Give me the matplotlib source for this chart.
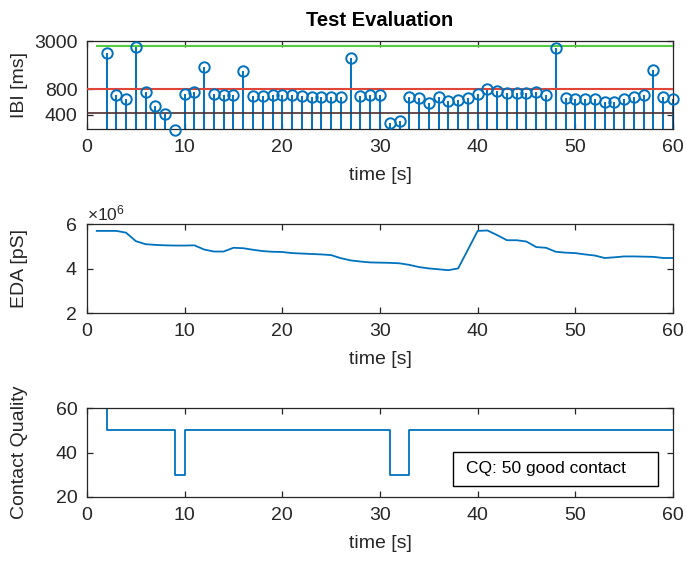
import matplotlib
matplotlib.use("Agg")
import matplotlib.pyplot as plt
import numpy as np
from matplotlib.ticker import ScalarFormatter, FixedLocator, FixedFormatter
from matplotlib.patches import Rectangle

plt.rcParams['font.family'] = ['Liberation Sans', 'DejaVu Sans']
plt.rcParams['mathtext.fontset'] = 'custom'
plt.rcParams['mathtext.rm'] = 'Liberation Sans'

# ---------------- data ----------------
ibi_t = [2, 3, 4, 5, 6, 7, 8, 9, 10, 11, 12, 13, 14, 15, 16, 17, 18, 19, 20,
         21, 22, 23, 24, 25, 26, 27, 28, 29, 30, 31, 32, 33, 34, 35, 36, 37, 38,
         39, 40, 41, 42, 43, 44, 45, 46, 47, 48, 49, 50, 51, 52, 53, 54, 55, 56,
         57, 58, 59, 60]
ibi_ms = [2168, 686, 616, 2570, 743, 510, 414, 262, 711, 750, 1459, 711, 686, 686,
          1336, 673, 673, 686, 680, 686, 666, 652, 647, 652, 647, 1910, 666, 680,
          680, 321, 340, 652, 627, 553, 652, 584, 600, 637, 704, 806, 758, 719,
          731, 725, 750, 686, 2455, 627, 616, 616, 616, 572, 563, 616, 656, 686,
          1346, 656, 616]
ibi_upper = 2600
ibi_mid = 800
ibi_lower = 420
ibi_yticks = [400, 800, 3000]

eda_t = list(range(1, 61))
eda_ps = [5.70e6, 5.70e6, 5.70e6, 5.62e6, 5.24e6, 5.10e6, 5.07e6, 5.05e6, 5.04e6, 5.04e6,
          5.05e6, 4.86e6, 4.77e6, 4.77e6, 4.94e6, 4.92e6, 4.85e6, 4.79e6, 4.76e6, 4.75e6,
          4.70e6, 4.68e6, 4.66e6, 4.64e6, 4.61e6, 4.47e6, 4.37e6, 4.32e6, 4.28e6, 4.27e6,
          4.26e6, 4.24e6, 4.17e6, 4.07e6, 4.01e6, 3.97e6, 3.93e6, 4.01e6, 4.85e6, 5.70e6,
          5.72e6, 5.51e6, 5.28e6, 5.28e6, 5.22e6, 4.97e6, 4.94e6, 4.76e6, 4.72e6, 4.70e6,
          4.64e6, 4.59e6, 4.48e6, 4.51e6, 4.55e6, 4.55e6, 4.54e6, 4.53e6, 4.48e6, 4.48e6]

cq_t = list(range(1, 61))
cq = [60, 50, 50, 50, 50, 50, 50, 50, 30, 50,
      50, 50, 50, 50, 50, 50, 50, 50, 50, 50,
      50, 50, 50, 50, 50, 50, 50, 50, 50, 50,
      30, 30, 50, 50, 50, 50, 50, 50, 50, 50,
      50, 50, 50, 50, 50, 50, 50, 50, 50, 50,
      50, 50, 50, 50, 50, 50, 50, 50, 50, 50]
cq_note = "CQ: 50 good contact"

# ---------------- style ----------------
BLUE = (0.0, 0.447, 0.741)
AXC = (0.15, 0.15, 0.15)
FS = 14

fig = plt.figure(figsize=(6.87, 5.62), dpi=100)
L, W = 0.1266, 0.853
ax1 = fig.add_axes([L, 0.770, W, 0.157])
ax2 = fig.add_axes([L, 0.443, W, 0.158])
ax3 = fig.add_axes([L, 0.1157, W, 0.158])

def style(ax):
    for s in ax.spines.values():
        s.set_color(AXC)
        s.set_linewidth(0.9)
    ax.tick_params(direction='in', top=True, right=True, length=4, width=0.9,
                   colors=AXC, labelsize=FS, labelcolor=AXC, pad=7)
    ax.set_xlim(0, 60)
    ax.set_xticks(range(0, 61, 10))
    ax.set_xlabel("time [s]", fontsize=FS, color=AXC, labelpad=8)
    ax.yaxis.set_label_coords(-0.1, 0.5)

# ---- IBI stem ----
ax1.set_yscale('log')
ml, sl, bl = ax1.stem(ibi_t, ibi_ms, bottom=1)
plt.setp(sl, color=BLUE, linewidth=1.4)
plt.setp(ml, color=BLUE, marker='o', markerfacecolor='none', markersize=7.5,
         markeredgewidth=1.4, clip_on=False, zorder=4)
bl.set_visible(False)
ax1.plot([1, 60], [ibi_upper, ibi_upper], color=(0.33, 0.8, 0.25), lw=1.5, zorder=3)
ax1.plot([0, 60], [ibi_mid, ibi_mid], color=(0.88, 0.27, 0.22), lw=1.5, zorder=3)
ax1.plot([0, 60], [ibi_lower, ibi_lower], color=(0.3, 0.18, 0.18), lw=1.2, zorder=3)
ax1.set_ylim(270, 3000)
ax1.yaxis.set_major_locator(FixedLocator(ibi_yticks))
ax1.yaxis.set_major_formatter(FixedFormatter([str(v) for v in ibi_yticks]))
ax1.yaxis.set_minor_locator(FixedLocator([]))
ax1.set_ylabel("IBI [ms]", fontsize=FS, color=AXC)
style(ax1)
ax1.set_title("Test Evaluation", fontsize=14.5, fontweight='bold', color='black', pad=11)

# ---- EDA ----
ax2.plot(eda_t, eda_ps, color=BLUE, lw=1.3)
ax2.set_ylim(2e6, 6e6)
ax2.set_yticks([2e6, 4e6, 6e6])
fmt = ScalarFormatter(useMathText=True)
fmt.set_powerlimits((0, 0))
ax2.yaxis.set_major_formatter(fmt)
ax2.yaxis.get_offset_text().set_fontsize(FS - 1.5)
ax2.yaxis.get_offset_text().set_color(AXC)
ax2.set_ylabel("EDA [pS]", fontsize=FS, color=AXC)
style(ax2)

# ---- Contact quality ----
ax3.step(cq_t, cq, where='post', color=BLUE, lw=1.3)
ax3.set_ylim(20, 60)
ax3.set_yticks([20, 40, 60])
ax3.set_ylabel("Contact Quality", fontsize=FS, color=AXC)
style(ax3)

rect = Rectangle((0.659, 0.135), 0.299, 0.061, transform=fig.transFigure,
                 facecolor='white', edgecolor='black', lw=1.0, zorder=5)
fig.patches.append(rect)
fig.text(0.678, 0.1655, cq_note, fontsize=12.5, va='center', ha='left', color='black', zorder=6)

fig.savefig("out.png", dpi=100)
